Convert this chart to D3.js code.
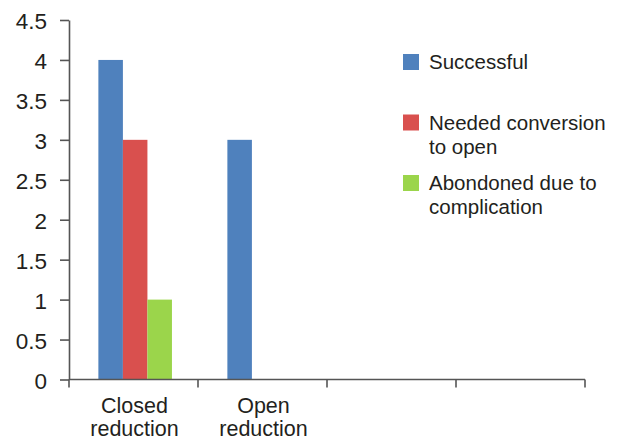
<!DOCTYPE html>
<html>
<head>
<meta charset="utf-8">
<script src="https://cdn.jsdelivr.net/npm/d3@7"></script>
<style>
  html, body { margin: 0; padding: 0; background: #fff; }
  svg text { font-family: "Liberation Sans", Arial, sans-serif; fill: #231f20; }
</style>
</head>
<body>
<svg id="chart" width="617" height="440"></svg>
<script>
// Category slots on the x axis (the last two are empty)
const categories = ["Closed reduction", "Open reduction", "", ""];
const seriesNames = ["Successful", "Needed conversion to open", "Abondoned due to complication"];
const successful = [4, 3, 0, 0];
const neededConversion = [3, 0, 0, 0];
const abandoned = [1, 0, 0, 0];
const yTicks = [0, 0.5, 1, 1.5, 2, 2.5, 3, 3.5, 4, 4.5];
const colors = ["#4f81bd", "#d9504e", "#9bd54b"];

// Label lines for the categories and the legend
const categoryLines = [["Closed", "reduction"], ["Open", "reduction"], [], []];
const legendLines = [["Successful"], ["Needed conversion", "to open"], ["Abondoned due to", "complication"]];

const seriesValues = [successful, neededConversion, abandoned];

const svg = d3.select("#chart");
const plotLeft = 69, plotRight = 585, plotTop = 20, plotBottom = 379.5;
const axisColor = "#555";
const tickFont = 22.5, catFont = 21.5, legendFont = 20.5;

const x = d3.scaleBand()
  .domain(d3.range(categories.length))
  .range([plotLeft, plotRight])
  .paddingInner(0).paddingOuter(0);

const x1 = d3.scaleBand()
  .domain(d3.range(seriesNames.length))
  .range([0, x.bandwidth()])
  .paddingInner(0).paddingOuter(1.13).align(0.53);

const y = d3.scaleLinear().domain([0, 4.5]).range([plotBottom, plotTop]);

// Bars
const groups = svg.append("g").selectAll("g")
  .data(categories.map((c, i) => i))
  .join("g")
  .attr("transform", i => `translate(${x(i)},0)`);

groups.selectAll("rect")
  .data(i => seriesValues.map((vals, s) => ({ s, v: vals[i] })).filter(d => d.v > 0))
  .join("rect")
  .attr("x", d => x1(d.s))
  .attr("width", x1.bandwidth())
  .attr("y", d => y(d.v))
  .attr("height", d => y(0) - y(d.v))
  .attr("fill", d => colors[d.s]);

// Y axis
const yAxis = svg.append("g")
  .attr("transform", `translate(${plotLeft},0)`)
  .call(d3.axisLeft(y).tickValues(yTicks).tickFormat(d => String(d)).tickSize(9).tickPadding(13).tickSizeOuter(0));
yAxis.attr("font-family", null).attr("font-size", null);
yAxis.select(".domain").attr("stroke", axisColor).attr("stroke-width", 1.6);
yAxis.selectAll(".tick line").attr("stroke", axisColor).attr("stroke-width", 1.6);
yAxis.selectAll(".tick text")
  .attr("font-size", tickFont)
  .attr("fill", "#231f20")
  .attr("dy", "0.38em");

// X axis: line with ticks at category boundaries
const xAxis = svg.append("g");
xAxis.append("line")
  .attr("x1", plotLeft).attr("x2", plotRight)
  .attr("y1", y(0)).attr("y2", y(0))
  .attr("stroke", axisColor).attr("stroke-width", 1.6);
const boundaries = d3.range(categories.length + 1).map(i => i < categories.length ? x(i) : x(i - 1) + x.bandwidth());
xAxis.selectAll("line.tick")
  .data(boundaries)
  .join("line")
  .attr("class", "tick")
  .attr("x1", d => d).attr("x2", d => d)
  .attr("y1", y(0)).attr("y2", y(0) + 8)
  .attr("stroke", axisColor).attr("stroke-width", 1.6);

// Category labels, centred under each slot
const catText = xAxis.selectAll("text.cat")
  .data(categories.map((c, i) => i))
  .join("text")
  .attr("class", "cat")
  .attr("text-anchor", "middle")
  .attr("font-size", catFont)
  .attr("x", i => x(i) + x.bandwidth() / 2 + 1)
  .attr("y", 413);
catText.selectAll("tspan")
  .data(i => categoryLines[i])
  .join("tspan")
  .attr("x", function () { return d3.select(this.parentNode).attr("x"); })
  .attr("dy", (d, j) => j === 0 ? 0 : 22.5)
  .text(d => d);

// Legend
const legend = svg.append("g").attr("transform", "translate(403,54)");
const items = legend.selectAll("g")
  .data(seriesNames.map((n, i) => i))
  .join("g")
  .attr("transform", i => `translate(0,${i * 60.5})`);
items.append("rect")
  .attr("width", 16).attr("height", 16)
  .attr("fill", i => colors[i]);
const lt = items.append("text")
  .attr("x", 26).attr("y", 15)
  .attr("font-size", legendFont);
lt.selectAll("tspan")
  .data(i => legendLines[i])
  .join("tspan")
  .attr("x", 26)
  .attr("dy", (d, j) => j === 0 ? 0 : 24)
  .text(d => d);
</script>
</body>
</html>
